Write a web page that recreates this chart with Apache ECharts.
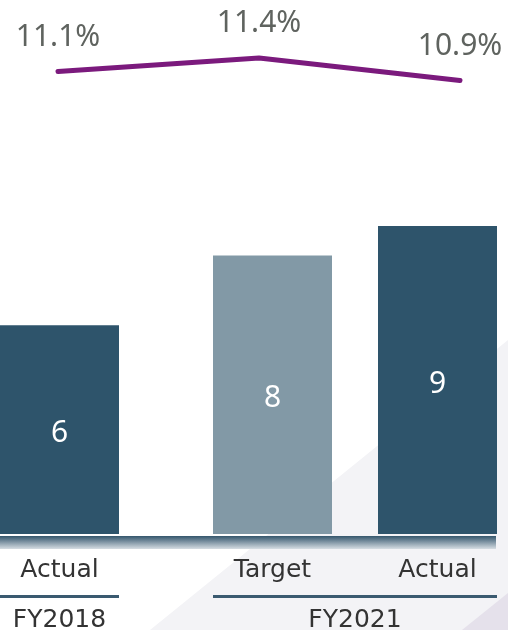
<!DOCTYPE html>
<html>
<head>
<meta charset="utf-8">
<style>html,body{margin:0;padding:0;background:#fff}#c{width:508px;height:630px}</style>
<script src="https://cdn.jsdelivr.net/npm/echarts@6/dist/echarts.min.js"></script>
</head>
<body>
<div id="c"></div>
<script>
const categories = ['Actual', 'Target', 'Actual'];
const groups = ['FY2018', 'FY2021'];
const barValues = [6, 8, 8.85];
const barColors = ['#2e546b', '#8299a6', '#2e546b'];
const marginValues = [11.1, 11.4, 10.9];

const chart = echarts.init(document.getElementById('c'), null, {renderer: 'canvas'});
const catFont = {fontFamily: 'DejaVu Sans', fontSize: 25, color: '#333333'};
const valFont = {fontFamily: 'Noto Sans', fontSize: 30};

function barData(from, to) {
  return barValues.slice(from, to).map((v, i) => ({value: v, itemStyle: {color: barColors[from + i]}}));
}

const option = {
  animation: false,
  graphic: [
    {type: 'polygon', z: -10, shape: {points: [[150, 630], [508, 340], [508, 630]]}, style: {fill: '#f3f3f6'}},
    {type: 'polygon', z: -9, shape: {points: [[462, 630], [508, 593], [508, 630]]}, style: {fill: '#e5e1eb'}},
    {type: 'rect', z: 10, shape: {x: 0, y: 536, width: 496, height: 13},
      style: {fill: new echarts.graphic.LinearGradient(0, 0, 0, 1, [
        {offset: 0, color: '#34566c'}, {offset: 0.25, color: '#5d788b'}, {offset: 1, color: '#d6dde3'}])}},
    {type: 'rect', z: 10, shape: {x: 0, y: 595, width: 119, height: 3}, style: {fill: '#3a5a70'}},
    {type: 'rect', z: 10, shape: {x: 213, y: 595, width: 284, height: 3}, style: {fill: '#3a5a70'}}
  ],
  grid: [
    {left: 0, width: 119, top: 186, height: 348, outerBoundsMode: 'none'},
    {left: 190, width: 330, top: 186, height: 348, outerBoundsMode: 'none'},
    {left: 58, width: 402, top: 31, height: 90, outerBoundsMode: 'none'}
  ],
  xAxis: [
    {type: 'category', gridIndex: 0, data: categories.slice(0, 1), axisLine: {show: false}, axisTick: {show: false},
      axisLabel: Object.assign({margin: 24}, catFont)},
    {type: 'category', gridIndex: 1, data: categories.slice(1), axisLine: {show: false}, axisTick: {show: false},
      axisLabel: Object.assign({margin: 24}, catFont)},
    {type: 'category', gridIndex: 0, position: 'bottom', offset: 62, data: groups.slice(0, 1), axisLine: {show: false}, axisTick: {show: false},
      axisLabel: Object.assign({margin: 12}, catFont)},
    {type: 'category', gridIndex: 1, position: 'bottom', offset: 62, data: groups.slice(1), axisLine: {show: false}, axisTick: {show: false},
      axisLabel: Object.assign({margin: 12}, catFont)},
    {type: 'category', gridIndex: 2, boundaryGap: false, data: categories, show: false}
  ],
  yAxis: [
    {type: 'value', gridIndex: 0, min: 0, max: 10, show: false, splitLine: {show: false}},
    {type: 'value', gridIndex: 1, min: 0, max: 10, show: false, splitLine: {show: false}},
    {type: 'value', gridIndex: 2, min: 10, max: 12, show: false, splitLine: {show: false}}
  ],
  series: [
    {type: 'bar', xAxisIndex: 0, yAxisIndex: 0, barWidth: 119, data: barData(0, 1),
      label: Object.assign({show: true, position: 'inside', offset: [0, 4], color: '#ffffff', formatter: p => Math.round(p.value)}, valFont)},
    {type: 'bar', xAxisIndex: 1, yAxisIndex: 1, barWidth: 119, data: barData(1, 3),
      label: Object.assign({show: true, position: 'inside', offset: [0, 4], color: '#ffffff', formatter: p => Math.round(p.value)}, valFont)},
    {type: 'line', xAxisIndex: 4, yAxisIndex: 2, data: marginValues, symbol: 'circle', symbolSize: 1, showSymbol: true,
      itemStyle: {color: 'rgba(0,0,0,0)'},
      lineStyle: {color: '#7b1a7d', width: 5, cap: 'round', join: 'round'},
      label: Object.assign({show: true, position: 'top', distance: 19, color: '#5f635f', formatter: p => p.value.toFixed(1) + '%'}, valFont)}
  ]
};
chart.setOption(option);
</script>
</body>
</html>
